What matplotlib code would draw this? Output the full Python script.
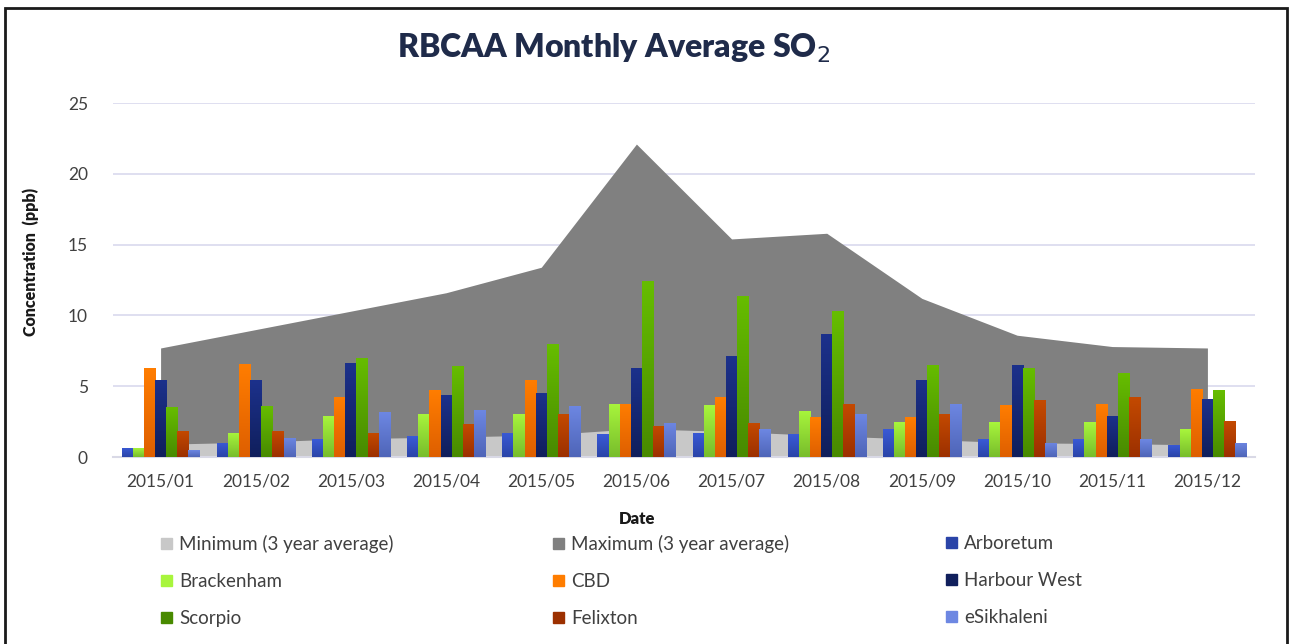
import numpy as np
import matplotlib
matplotlib.use("Agg")
import matplotlib.pyplot as plt
from matplotlib.patches import Patch, Rectangle
from matplotlib.colors import LinearSegmentedColormap

plt.rcParams["font.family"] = ["Lato", "DejaVu Sans"]

MONTHS = ["2015/01", "2015/02", "2015/03", "2015/04", "2015/05", "2015/06",
          "2015/07", "2015/08", "2015/09", "2015/10", "2015/11", "2015/12"]
MIN_3YR = [0.9, 1.05, 1.3, 1.4, 1.55, 2.0, 1.8, 1.5, 1.25, 1.0, 0.95, 0.85]
MAX_3YR = [7.7, 9.0, 10.3, 11.6, 13.4, 22.1, 15.4, 15.8, 11.2, 8.6, 7.8, 7.7]

ARBORETUM = [0.64, 0.99, 1.25, 1.48, 1.72, 1.60, 1.72, 1.60, 1.95, 1.25, 1.25, 0.87]
BRACKENHAM = [0.64, 1.72, 2.92, 3.04, 3.04, 3.77, 3.65, 3.27, 2.45, 2.45, 2.45, 1.95]
CBD = [6.26, 6.54, 4.24, 4.73, 5.44, 3.77, 4.24, 2.80, 2.80, 3.65, 3.77, 4.83]
HARBOUR_WEST = [5.44, 5.44, 6.66, 4.36, 4.50, 6.29, 7.13, 8.69, 5.44, 6.52, 2.92, 4.12]
SCORPIO = [3.50, 3.63, 7.02, 6.43, 7.96, 12.4, 11.37, 10.3, 6.52, 6.29, 5.90, 4.71]
FELIXTON = [1.84, 1.84, 1.72, 2.31, 3.04, 2.19, 2.42, 3.77, 3.04, 4.00, 4.24, 2.57]
ESIKHALENI = [0.49, 1.37, 3.15, 3.30, 3.63, 2.42, 1.95, 3.04, 3.77, 1.01, 1.25, 0.99]

STATIONS = [
    ("Arboretum", ARBORETUM, "#3a5ad6", "#2a44a8"),
    ("Brackenham", BRACKENHAM, "#a8f53c", "#78bd2c"),
    ("CBD", CBD, "#ff7d00", "#de5f00"),
    ("Harbour West", HARBOUR_WEST, "#1c318c", "#101f5c"),
    ("Scorpio", SCORPIO, "#66bd00", "#488a00"),
    ("Felixton", FELIXTON, "#c44a00", "#9c3000"),
    ("eSikhaleni", ESIKHALENI, "#6d87e2", "#4f65b8"),
]
MIN_COL, MAX_COL = "#c8c8c8", "#808080"

W, H = 1289, 644
fig = plt.figure(figsize=(W / 100, H / 100), dpi=100)
ax = fig.add_axes([113 / W, 1 - 457 / H, (1255 - 113) / W, (457 - 103) / H])

x = np.arange(len(MONTHS))
ax.fill_between(x, 0, MAX_3YR, color=MAX_COL, lw=0, zorder=1)
ax.fill_between(x, 0, MIN_3YR, color=MIN_COL, lw=0, zorder=2)

bw = 0.82 / len(STATIONS)
for i, (name, vals, top, bot) in enumerate(STATIONS):
    bars = ax.bar(x + (i - 3) * bw, vals, bw, color=bot, lw=0, zorder=3)
    cmap = LinearSegmentedColormap.from_list(name, [bot, top])
    for b in bars:
        x0, y0 = b.get_x(), b.get_y()
        im = ax.imshow(np.linspace(0, 1, 64).reshape(-1, 1), cmap=cmap, origin="lower",
                       extent=[x0, x0 + b.get_width(), y0, y0 + b.get_height()],
                       aspect="auto", zorder=3.5)
        im.set_clip_path(b)

ax.set_xlim(-0.5, len(MONTHS) - 0.5)
ax.set_ylim(0, 25)
ax.set_yticks(range(0, 26, 5))
ax.set_xticks(x)
ax.set_xticklabels(MONTHS)
ax.tick_params(length=0, labelsize=12.5, colors="#404040", pad=12)
ax.tick_params(axis="y", pad=18)
ax.grid(axis="y", color="#d9d9ee", lw=1.2, zorder=0)
ax.set_axisbelow(True)
for s in ["top", "right", "left"]:
    ax.spines[s].set_visible(False)
ax.spines["bottom"].set_color("#d9d9e6")
ax.spines["bottom"].set_linewidth(1.5)

fig.text(614 / W, 1 - 48 / H, "RBCAA Monthly Average SO$_2$", ha="center", va="center",
         fontsize=23, fontweight="heavy", color="#1f2b4a")
fig.text(637 / W, 1 - 519 / H, "Date", ha="center", va="center",
         fontsize=12, fontweight="heavy", color="#1a1a1a")
fig.text(31 / W, 1 - 262 / H, "Concentration  (ppb)", ha="center", va="center",
         rotation=90, fontsize=11.5, fontweight="heavy", color="#1a1a1a")

cols = [
    [("Minimum (3 year average)", MIN_COL), ("Brackenham", STATIONS[1][2]), ("Scorpio", STATIONS[4][3])],
    [("Maximum (3 year average)", MAX_COL), ("CBD", STATIONS[2][2]), ("Felixton", STATIONS[5][3])],
    [("Arboretum", STATIONS[0][3]), ("Harbour West", STATIONS[3][3]), ("eSikhaleni", STATIONS[6][2])],
]
for cx, entries in zip([152, 544, 937], cols):
    handles = [Patch(color=c, label=l) for l, c in entries]
    fig.legend(handles=handles, loc="upper left", bbox_to_anchor=(cx / W, 1 - 526 / H),
               frameon=False, fontsize=13.5, handlelength=0.55, handleheight=0.55,
               handletextpad=0.4, labelspacing=1.06, borderpad=0, labelcolor="#404040")

fig.patches.append(Rectangle((5 / W, -0.1), (1287 - 5) / W, 1.1 - 8 / H, transform=fig.transFigure,
                             fill=False, ec="#1a1a1a", lw=2.0))

fig.savefig("out.png", dpi=100)
